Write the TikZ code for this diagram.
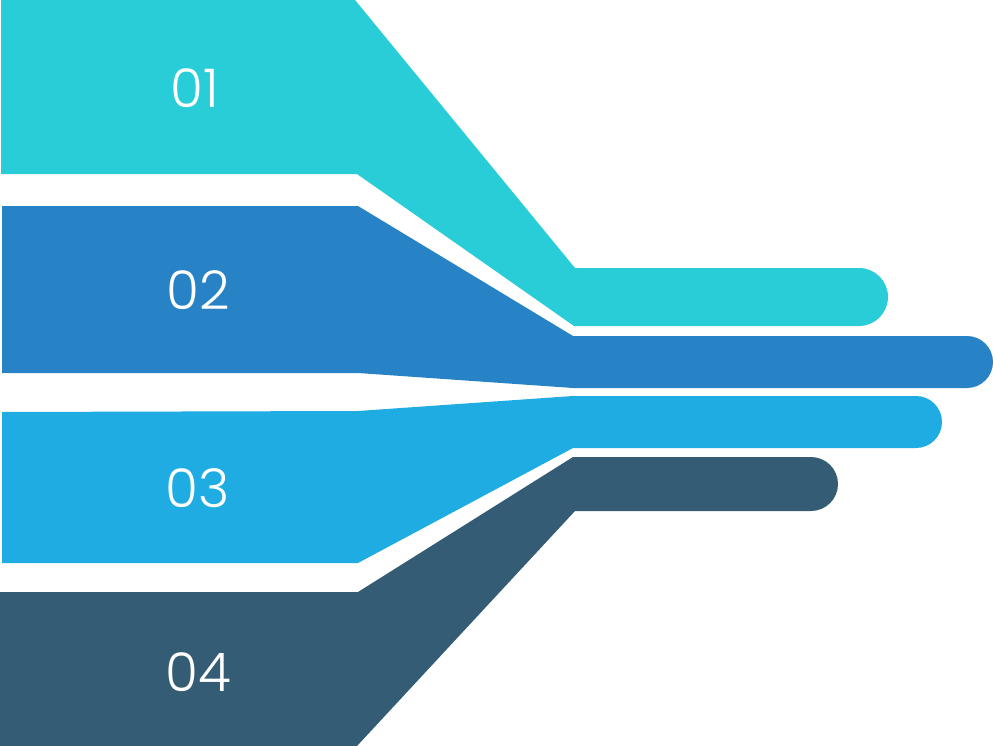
\documentclass[tikz,border=0pt]{standalone}
\usepackage{fontspec}
\setmainfont{Poppins Light}
\definecolor{cA}{HTML}{29CDD7}
\definecolor{cB}{HTML}{2783C6}
\definecolor{cC}{HTML}{1EACE2}
\definecolor{cD}{HTML}{345C75}
\begin{document}
\begin{tikzpicture}[x=0.75pt,y=-0.75pt,
  lbl/.style={text=white,font=\fontsize{40}{40}\selectfont,inner sep=0pt}]
\useasboundingbox (0,0) rectangle (993,746);
% band 1
\fill[cA] (1,0) -- (355,0) -- (575,268) -- (859,268)
  arc[start angle=-90,end angle=90,radius=29] -- (574,326) -- (357,174) -- (1,174) -- cycle;
% band 2
\fill[cB] (2,206) -- (358,206) -- (573,336) -- (967,336)
  arc[start angle=-90,end angle=90,radius=26] -- (573,388) -- (358,373) -- (2,373) -- cycle;
% band 3
\fill[cC] (2,412) -- (358,411) -- (573,396) -- (916,396)
  arc[start angle=-90,end angle=90,radius=26] -- (573,448) -- (358,563) -- (2,563) -- cycle;
% band 4
\fill[cD] (0,592) -- (358,592) -- (573,457) -- (811,457)
  arc[start angle=-90,end angle=90,radius=27] -- (575,511) -- (357,746) -- (0,746) -- cycle;
\node[lbl] (t1) at (195,88) {01};
\node[lbl] (t2) at (198,290) {02};
\node[lbl] (t3) at (198,488) {03};
\node[lbl] (t4) at (198,672) {04};
\end{tikzpicture}
\end{document}
